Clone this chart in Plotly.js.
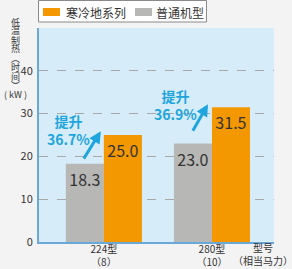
<!DOCTYPE html>
<html><head><meta charset="utf-8">
<script src="https://cdn.plot.ly/plotly-3.0.1.min.js"></script>
<style>html,body{margin:0;padding:0;background:#f3f3f3;}#c{width:292px;height:269px;}</style>
</head><body><div id="c"></div>
<script>
const categories = ['224型<br>（8）', '280型<br>（10）'];
const normalValues = [18.3, 23.0];
const coldValues = [25.0, 31.5];
const seriesNames = ['普通机型', '寒冷地系列'];
const seriesColors = ['#b7b7b5', '#f39800'];
const gains = ['提升<br>36.7%', '提升<br>36.9%'];
const yTicks = [0, 10, 20, 30, 40];
const yTitleChars = ['低','温','制','热','︵','时','间','︶','( kW )'];

const fontFam = '"Noto Sans CJK SC", "Noto Sans", sans-serif';
const blue = '#1ea5de';

const traces = [
  {type:'bar', name:seriesNames[0], x:categories, y:normalValues,
   marker:{color:seriesColors[0]}, text:normalValues.map(v=>v.toFixed(1)),
   textposition:'inside', insidetextanchor:'end', textangle:0,
   textfont:{size:16, color:'#333', family:fontFam}, hoverinfo:'none'},
  {type:'bar', name:seriesNames[1], x:categories, y:coldValues,
   marker:{color:seriesColors[1]}, text:coldValues.map(v=>v.toFixed(1)),
   textposition:'inside', insidetextanchor:'end', textangle:0,
   textfont:{size:16, color:'#333', family:fontFam}, hoverinfo:'none'}
];

// pixel -> paper helpers (plot area: x 39..274, y 28..242)
const px = v => (v-39)/235;
const py = v => (242-v)/214;

const annotations = [];
const shapes = [];
// y-axis title stacked vertically
yTitleChars.forEach((ch,i)=>{
  annotations.push({xref:'paper', yref:'paper', x:px(15), y:py(22 + i*9),
    text:ch, showarrow:false, xanchor:'center', yanchor:'middle',
    font:{size:9, color:'#333', family:fontFam}});
});
// x-axis title
annotations.push({xref:'paper', yref:'paper', x:px(263), y:py(254),
  text:'型号<br>（相当马力）', showarrow:false, xanchor:'center', yanchor:'middle',
  font:{size:10, color:'#333', family:fontFam}});
// gain labels
const gainPos = [[-0.324, 26.2], [0.667, 32.0]];
gains.forEach((g,i)=>{
  annotations.push({x:gainPos[i][0], y:gainPos[i][1], text:'<b>'+g+'</b>', showarrow:false,
    xanchor:'center', yanchor:'middle', font:{size:14, color:blue, family:fontFam}});
});
// arrows
const arrows = [[-0.028, 25.9, -18, 29], [0.963, 32.2, -16, 28]];
arrows.forEach(a=>{
  annotations.push({x:a[0], y:a[1], ax:a[2], ay:a[3], text:'', showarrow:true,
    arrowhead:2, arrowsize:0.8, arrowwidth:3, arrowcolor:blue});
});

// legend box (drawn to match the reference's compact legend)
shapes.push({type:'rect', xref:'paper', yref:'paper', x0:px(38.5), x1:px(206.5), y0:py(22), y1:py(0.5),
  fillcolor:'#ffffff', line:{color:'#8a8a8a', width:1}});
const legendItems = [
  {name:seriesNames[1], color:seriesColors[1], sx:43, tx:64},
  {name:seriesNames[0], color:seriesColors[0], sx:135, tx:154}
];
legendItems.forEach(it=>{
  shapes.push({type:'rect', xref:'paper', yref:'paper', x0:px(it.sx), x1:px(it.sx+17), y0:py(16), y1:py(8),
    fillcolor:it.color, line:{width:0}});
  annotations.push({xref:'paper', yref:'paper', x:px(it.tx), y:py(12), text:it.name, showarrow:false,
    xanchor:'left', yanchor:'middle', font:{size:12, color:'#333', family:fontFam}});
});
// dotted right edge of plot area
shapes.push({type:'line', xref:'paper', yref:'paper', x0:1, x1:1, y0:0, y1:1,
  line:{color:'#e8f3fa', width:1, dash:'dot'}});

const layout = {
  width:292, height:269,
  margin:{l:39, r:18, t:28, b:27, pad:0, autoexpand:false},
  paper_bgcolor:'#f3f3f3', plot_bgcolor:'#d6edf9',
  font:{family:fontFam, color:'#333', size:11},
  barmode:'group', bargap:0.296, bargroupgap:0,
  showlegend:false,
  xaxis:{type:'category', range:[-0.6, 1.574], showline:true, linecolor:'#6aa8d8', linewidth:2,
    ticks:'', tickfont:{size:10, color:'#333'}, showgrid:false, fixedrange:true, automargin:false,
    ticklabelstandoff:-3},
  yaxis:{range:[0,50], tickvals:yTicks, showline:true, linecolor:'#6aa8d8', linewidth:2,
    showgrid:true, gridcolor:'#a8a8a8', griddash:'dash', gridwidth:1, zeroline:false,
    ticks:'', tickfont:{size:11, color:'#333'}, ticklabelstandoff:2, fixedrange:true, automargin:false},
  shapes:shapes,
  annotations:annotations
};
Plotly.newPlot('c', traces, layout, {displayModeBar:false, staticPlot:true});
</script></body></html>
